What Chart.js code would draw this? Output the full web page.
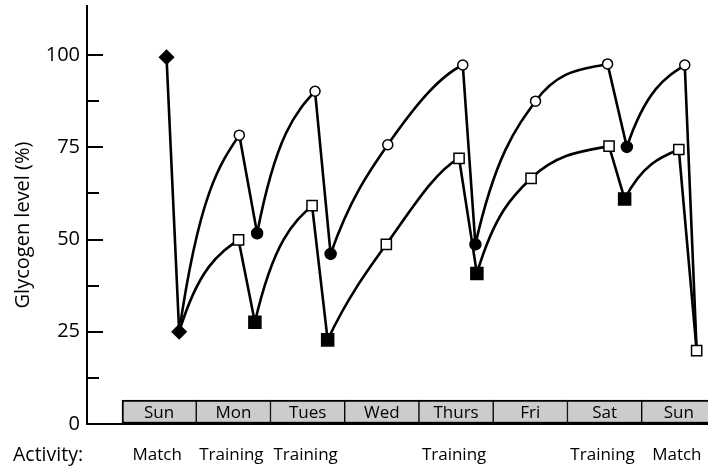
<!DOCTYPE html>
<html><head><meta charset="utf-8">
<script src="https://cdn.jsdelivr.net/npm/chart.js@4/dist/chart.umd.min.js"></script>
<style>html,body{margin:0;padding:0;background:#fff;overflow:hidden}#wrap{width:708px;height:467px}</style>
</head><body><div id="wrap"><canvas id="c" width="708" height="467"></canvas></div>
<script>
// ---- data ----
const days = ['Sun', 'Mon', 'Tues', 'Wed', 'Thurs', 'Fri', 'Sat', 'Sun'];
const activities = ['Match', 'Training', 'Training', '', 'Training', '', 'Training', 'Match'];
const activityHeading = 'Activity:';
const yTitle = 'Glycogen level (%)';
const yTicks = [0, 25, 50, 75, 100];
const yMinorTicks = [12.5, 37.5, 62.5, 87.5];

// match (diamonds): time in days from start of first Sunday, glycogen %
const matchX = [0.60, 0.77];
const matchY = [99.4, 25.0];

// upper series (circles)
const circleX = [0.77, 1.58, 1.82, 2.60, 2.81, 3.58, 4.59, 4.76, 5.57, 6.54, 6.80, 7.58, 7.74];
const circleY = [25.0, 78.3, 51.7, 90.2, 46.1, 75.7, 97.3, 48.7, 87.5, 97.6, 75.1, 97.3, 19.9];
const circleKind = ['start', 'open', 'filled', 'open', 'filled', 'open', 'open', 'filled', 'open', 'open', 'filled', 'open', 'end'];

// lower series (squares)
const squareX = [0.77, 1.57, 1.79, 2.56, 2.77, 3.56, 4.54, 4.78, 5.51, 6.56, 6.77, 7.50, 7.74];
const squareY = [25.0, 49.9, 27.6, 59.2, 22.8, 48.7, 72.0, 40.8, 66.6, 75.3, 61.0, 74.4, 19.9];
const squareKind = ['start', 'open', 'filled', 'open', 'filled', 'open', 'open', 'filled', 'open', 'open', 'filled', 'open', 'endOpen'];

// ---- styling constants ----
const FONT = "'Open Sans', sans-serif";
const BOX_TOP = 6.5;      // height of day strip in axis units
const X_MIN = -0.4714, X_MAX = 7.893;
const Y_MAX = 113.3;
const K_START = 2.2, K_END = 0.45;

const pts = (xs, ys) => xs.map((x, i) => ({x, y: ys[i]}));

function shapeCurves(chart, meta, kinds) {
  const line = meta.dataset;
  line.updateControlPoints(chart.chartArea, meta.iScale.axis);
  const p = meta.data;
  const n = p.length;
  const isDrop = i => kinds[i + 1] === 'filled' || kinds[i + 1] === 'end' || kinds[i + 1] === 'endOpen';
  const chord = (a, b) => (p[b].y - p[a].y) / (p[b].x - p[a].x);
  const m = new Array(n).fill(0);
  const isStart = new Array(n).fill(false);
  for (let i = 0; i < n; i++) {
    const prevCurve = i > 0 && !isDrop(i - 1);
    const nextCurve = i < n - 1 && !isDrop(i);
    if (prevCurve && nextCurve) m[i] = (p[i + 1].y - p[i - 1].y) / (p[i + 1].x - p[i - 1].x);
    else if (nextCurve) isStart[i] = true;
    else if (prevCurve) m[i] = K_END * chord(i - 1, i);
  }
  for (let i = 0; i < n; i++) {
    if (!isStart[i]) continue;
    const c = chord(i, i + 1);
    const ratio = m[i + 1] / c;            // end-slope as fraction of chord
    m[i] = c * Math.min(K_START, 3 - 2 * ratio); // avoid inflection
  }
  for (let i = 0; i < n - 1; i++) {
    const a = p[i], b = p[i + 1];
    if (isDrop(i)) {
      a.cp2x = a.x; a.cp2y = a.y; b.cp1x = b.x; b.cp1y = b.y;
    } else {
      const h = (b.x - a.x) / 3;
      a.cp2x = a.x + h; a.cp2y = a.y + m[i] * h;
      b.cp1x = b.x - h; b.cp1y = b.y - m[i + 1] * h;
    }
  }
  line._path = undefined;
}

const decorPlugin = {
  id: 'decor',
  beforeDatasetDraw(chart, args) {
    const ds = chart.data.datasets[args.index];
    if (ds.kinds) shapeCurves(chart, args.meta, ds.kinds);
  },
  beforeDatasetsDraw(chart) {
    const {ctx, chartArea, scales: {x, y}} = chart;
    ctx.save();
    ctx.strokeStyle = '#000';
    ctx.lineWidth = 2;
    // baseline
    const y0 = y.getPixelForValue(0);
    ctx.beginPath();
    ctx.moveTo(chartArea.left, y0);
    ctx.lineTo(chartArea.right, y0);
    ctx.stroke();
    // inward ticks
    yTicks.forEach(v => {
      const py = Math.round(y.getPixelForValue(v));
      ctx.beginPath(); ctx.moveTo(chartArea.left, py); ctx.lineTo(chartArea.left + 16, py); ctx.stroke();
    });
    yMinorTicks.forEach(v => {
      const py = Math.round(y.getPixelForValue(v));
      ctx.beginPath(); ctx.moveTo(chartArea.left, py); ctx.lineTo(chartArea.left + 12, py); ctx.stroke();
    });
    ctx.restore();
  },
  afterDraw(chart) {
    const {ctx, chartArea, scales: {x, y}} = chart;
    ctx.save();
    ctx.fillStyle = '#000';
    // day labels
    ctx.font = '17px ' + FONT;
    ctx.textAlign = 'center';
    ctx.textBaseline = 'middle';
    const yMid = y.getPixelForValue(BOX_TOP / 2);
    days.forEach((d, i) => {
      ctx.fillText(d, x.getPixelForValue(i + 0.5), yMid + 1);
    });
    // activities
    ctx.font = '17px ' + FONT;
    activities.forEach((a, i) => {
      if (a) ctx.fillText(a, x.getPixelForValue(i + 0.5) - 2, 455);
    });
    ctx.font = '19.5px ' + FONT;
    ctx.textAlign = 'left';
    ctx.fillText(activityHeading, 13, 455);
    // y title
    ctx.translate(23, 225);
    ctx.rotate(-Math.PI / 2);
    ctx.textAlign = 'center';
    ctx.font = '20px ' + FONT;
    ctx.fillText(yTitle, 0, 0);
    ctx.restore();
  }
};

const lineBase = {
  type: 'line',
  borderColor: '#000',
  borderWidth: 2.6,
  fill: false,
  pointBorderColor: '#000',
  pointBorderWidth: 1.5,
  pointHoverRadius: 0,
};

new Chart(document.getElementById('c'), {
  type: 'line',
  data: {
    datasets: [
      Object.assign({}, lineBase, {
        label: 'circles',
        data: pts(circleX, circleY),
        kinds: circleKind,
        tension: 0.4,
        pointStyle: 'circle',
        pointRadius: circleKind.map(k => k === 'open' ? 5 : k === 'filled' ? 5.5 : 0),
        pointBackgroundColor: circleKind.map(k => k === 'filled' ? '#000' : '#fff'),
        order: 2
      }),
      Object.assign({}, lineBase, {
        label: 'squares',
        data: pts(squareX, squareY),
        kinds: squareKind,
        tension: 0.4,
        pointStyle: 'rect',
        pointRadius: squareKind.map(k => (k === 'open' || k === 'endOpen') ? 7.2 : k === 'filled' ? 8.5 : 0),
        pointBackgroundColor: squareKind.map(k => k === 'filled' ? '#000' : '#fff'),
        order: 1
      }),
      Object.assign({}, lineBase, {
        label: 'match',
        data: pts(matchX, matchY),
        tension: 0,
        pointStyle: 'rectRot',
        pointRadius: 7,
        pointBackgroundColor: '#000',
        order: 0
      }),
      {
        type: 'bar',
        label: 'days',
        data: days.map((d, i) => ({x: i + 0.5, y: [0, BOX_TOP]})),
        backgroundColor: '#cccccc',
        borderColor: '#000',
        borderWidth: ctx => ({top: 2, bottom: 2, left: ctx.dataIndex === 0 ? 2 : 1, right: 1}),
        borderSkipped: false,
        barPercentage: 1,
        categoryPercentage: 1,
        order: 5
      }
    ]
  },
  options: {
    responsive: false,
    devicePixelRatio: 1,
    animation: false,
    events: [],
    layout: {autoPadding: false, padding: {top: 6, bottom: 43, left: 0, right: 0}},
    plugins: {legend: {display: false}, tooltip: {enabled: false}},
    scales: {
      x: {
        type: 'linear',
        min: X_MIN, max: X_MAX,
        offset: false,
        display: false,
        afterBuildTicks: s => { s.ticks = days.map((d, i) => ({value: i})); }
      },
      y: {
        type: 'linear',
        min: 0, max: Y_MAX,
        position: 'left',
        afterFit: s => { s.width = 87; s.paddingTop = 0; s.paddingBottom = 0; },
        afterBuildTicks: s => { s.ticks = yTicks.map(v => ({value: v})); },
        grid: {drawOnChartArea: false, drawTicks: false},
        border: {display: true, color: '#000', width: 2},
        ticks: {
          color: '#000',
          padding: 7,
          font: {family: FONT, size: 20},
          callback: v => String(v)
        }
      }
    }
  },
  plugins: [decorPlugin]
});
</script>
</body></html>
